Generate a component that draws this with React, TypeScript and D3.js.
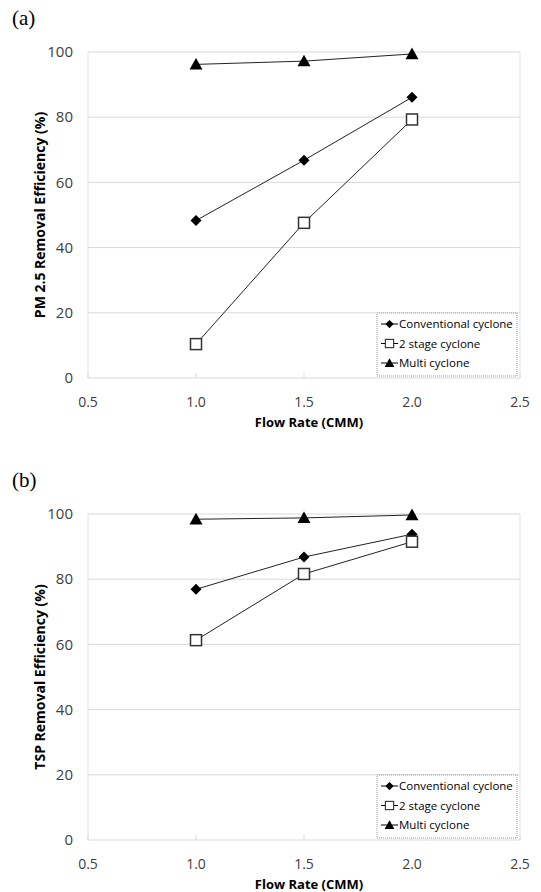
import React from "react";
import * as d3 from "d3";

const flowRates = [1.0, 1.5, 2.0];
const xTicks = [0.5, 1.0, 1.5, 2.0, 2.5];
const yTicks = [0, 20, 40, 60, 80, 100];
const seriesNames = ["Conventional cyclone", "2 stage cyclone", "Multi cyclone"];

// panel (a) PM 2.5
const pmConventional = [48.3, 66.8, 86.1];
const pmTwoStage = [10.4, 47.6, 79.3];
const pmMulti = [96.2, 97.2, 99.4];

// panel (b) TSP
const tspConventional = [76.9, 86.8, 93.8];
const tspTwoStage = [61.3, 81.6, 91.5];
const tspMulti = [98.4, 98.8, 99.7];

const W = 541;
const H = 892;
const FONT = "'Open Sans', 'Noto Sans', sans-serif";

function Marker({ kind, x, y }) {
  if (kind === 0) {
    const s = 5.5;
    return <path d={`M${x},${y - s}L${x + s},${y}L${x},${y + s}L${x - s},${y}Z`} fill="#000" />;
  }
  if (kind === 1) {
    return <rect x={x - 5.5} y={y - 5.5} width={11} height={11} fill="#fff" stroke="#333" strokeWidth={1.5} />;
  }
  const s = 6.5;
  return <path d={`M${x},${y - s}L${x + s},${y + s * 0.8}L${x - s},${y + s * 0.8}Z`} fill="#000" />;
}

function Panel({ top, letter, yTitle, series }) {
  const left = 88;
  const right = 520;
  const plotTop = top + 52;
  const plotBottom = top + 378;
  const x = d3.scaleLinear().domain([0.5, 2.5]).range([left, right]);
  const y = d3.scaleLinear().domain([0, 100]).range([plotBottom, plotTop]);
  const line = d3.line().x((d) => x(d[0])).y((d) => y(d[1]));

  const legX = 377;
  const legY = top + 313;

  return (
    <g>
      <text x={12} y={top + 25} fontFamily="'Liberation Serif', 'DejaVu Serif', serif" fontSize={21} fill="#000">
        {letter}
      </text>
      {/* grid */}
      {yTicks.map((t) => (
        <line key={t} x1={left} x2={right} y1={y(t)} y2={y(t)} stroke="#d9d9d9" strokeWidth={1} />
      ))}
      <line x1={left} x2={left} y1={plotTop} y2={plotBottom} stroke="#e4e4e4" />
      <line x1={right} x2={right} y1={plotTop} y2={plotBottom} stroke="#e4e4e4" />
      {xTicks.map((t) => (
        <line key={t} x1={x(t)} x2={x(t)} y1={plotBottom - 5} y2={plotBottom} stroke="#d9d9d9" />
      ))}
      {yTicks.map((t) => (
        <text key={t} x={73} y={y(t)} dy="0.35em" textAnchor="end" fontFamily={FONT} fontSize={15} fill="#404040">
          {t}
        </text>
      ))}
      {xTicks.map((t) => (
        <text key={t} x={x(t)} y={top + 407} textAnchor="middle" fontFamily={FONT} fontSize={14} fill="#404040">
          {t.toFixed(1)}
        </text>
      ))}
      <text x={(left + right) / 2 + 5} y={top + 427} textAnchor="middle" fontFamily={FONT} fontSize={13} fontWeight="bold" fill="#000">
        Flow Rate (CMM)
      </text>
      <text
        transform={`translate(45,${(plotTop + plotBottom) / 2}) rotate(-90)`}
        textAnchor="middle"
        fontFamily={FONT}
        fontSize={14}
        fontWeight="bold"
        fill="#000"
      >
        {yTitle}
      </text>
      {/* series */}
      {series.map((vals, si) => (
        <path key={si} d={line(flowRates.map((f, i) => [f, vals[i]]))} fill="none" stroke="#222" strokeWidth={1} />
      ))}
      {series.map((vals, si) =>
        flowRates.map((f, i) => <Marker key={`${si}-${i}`} kind={si} x={x(f)} y={y(vals[i])} />)
      )}
      {/* legend */}
      <rect x={legX} y={legY} width={140} height={63} fill="#fff" stroke="#999" strokeDasharray="1,1" />
      {seriesNames.map((n, i) => {
        const cy = legY + 11 + i * 19.5;
        return (
          <g key={n}>
            <line x1={legX + 4} x2={legX + 21} y1={cy} y2={cy} stroke="#000" />
            <g transform={`translate(${legX + 12.5},${cy}) scale(0.75) translate(${-(legX + 12.5)},${-cy})`}>
              <Marker kind={i} x={legX + 12.5} y={cy} />
            </g>
            <text x={legX + 22} y={cy} dy="0.35em" fontFamily={FONT} fontSize={11.5} fill="#000">
              {n}
            </text>
          </g>
        );
      })}
    </g>
  );
}

export default function App() {
  return (
    <svg width={W} height={H} style={{ position: "absolute", left: 0, top: 0, background: "#fff" }}>
      <rect width={W} height={H} fill="#fff" />
      <Panel
        top={0}
        letter="(a)"
        yTitle="PM 2.5 Removal Efficiency (%)"
        series={[pmConventional, pmTwoStage, pmMulti]}
      />
      <Panel
        top={462}
        letter="(b)"
        yTitle="TSP Removal Efficiency (%)"
        series={[tspConventional, tspTwoStage, tspMulti]}
      />
    </svg>
  );
}
